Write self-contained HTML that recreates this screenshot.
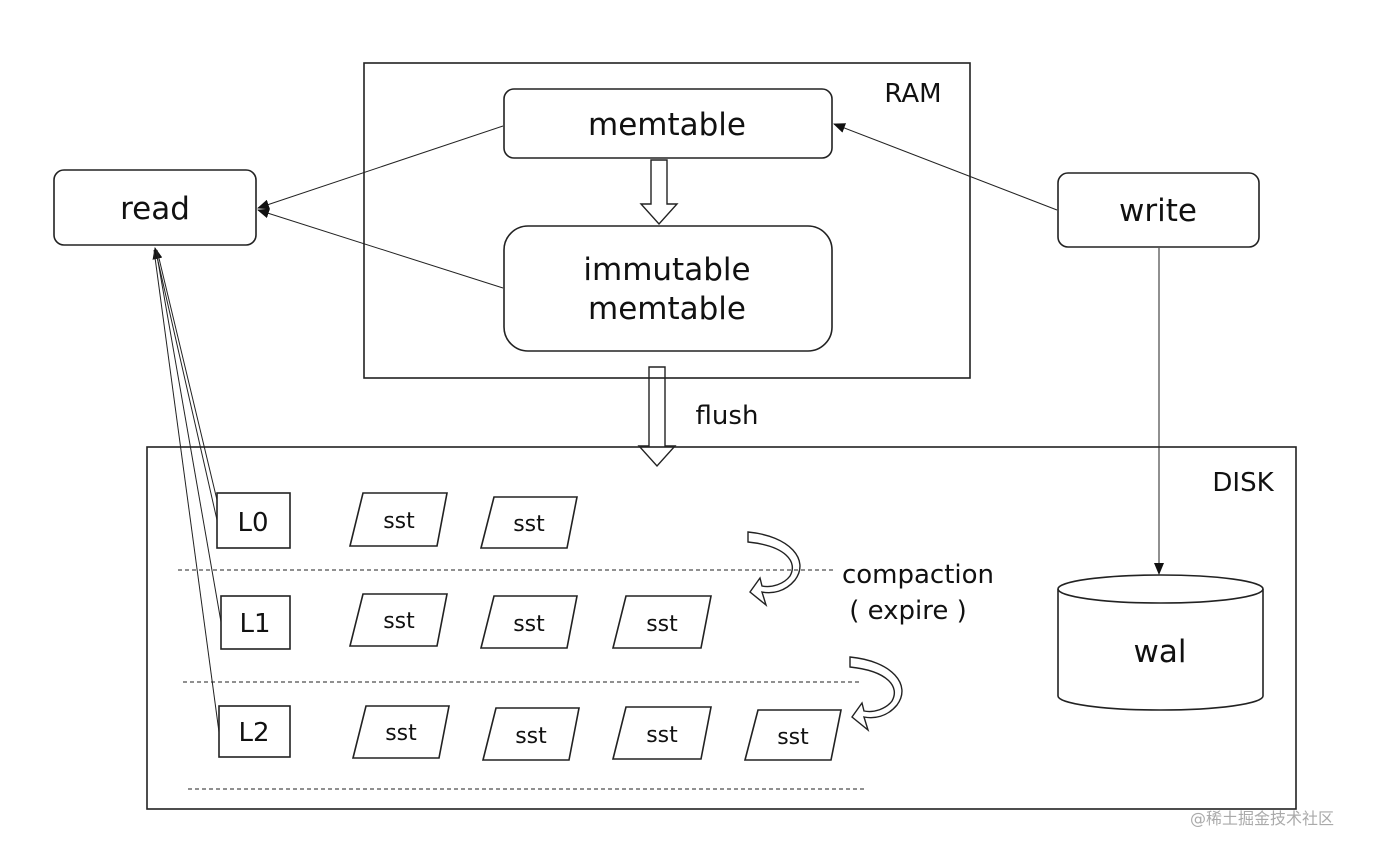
<!DOCTYPE html>
<html><head><meta charset="utf-8"><style>
html,body{margin:0;padding:0;background:#fff;}
svg text{font-family:"DejaVu Sans","Liberation Sans","Noto Sans CJK SC",sans-serif;fill:#111;}
</style></head><body>
<svg width="1374" height="852" viewBox="0 0 1374 852" xmlns="http://www.w3.org/2000/svg">
<defs>
<marker id="ah" markerWidth="12" markerHeight="10" refX="11" refY="5" orient="auto" markerUnits="userSpaceOnUse">
<path d="M0,0 L12,5 L0,10 Z" fill="#111"/></marker>
</defs>
<g fill="none" stroke="#222" stroke-width="1.6">
<rect x="364" y="63" width="606" height="315"/>
<rect x="147" y="447" width="1149" height="362"/>
<rect x="504" y="89" width="328" height="69" rx="10"/>
<rect x="504" y="226" width="328" height="125" rx="24"/>
<rect x="54" y="170" width="202" height="75" rx="10"/>
<rect x="1058" y="173" width="201" height="74" rx="10"/>
<rect x="217" y="493" width="73" height="55"/>
<rect x="221" y="596" width="69" height="53"/>
<rect x="219" y="706" width="71" height="51"/>
<path d="M363,493 H447 L437,546 H350 Z"/>
<path d="M494,497 H577 L567,548 H481 Z"/>
<path d="M363,594 H447 L437,646 H350 Z"/>
<path d="M494,596 H577 L567,648 H481 Z"/>
<path d="M626,596 H711 L701,648 H613 Z"/>
<path d="M366,706 H449 L439,758 H353 Z"/>
<path d="M496,708 H579 L569,760 H483 Z"/>
<path d="M626,707 H711 L701,759 H613 Z"/>
<path d="M758,710 H841 L831,760 H745 Z"/>
<path d="M1058,589 V696 A102.5,14 0 0 0 1263,696 V589"/>
<ellipse cx="1160.5" cy="589" rx="102.5" ry="14"/>
<path d="M651,160 H667 V204 H677 L659,224 L641,204 H651 Z" stroke-width="1.4"/>
<path d="M649,367 H665 V446 H675 L657,466 L639,446 H649 Z" stroke-width="1.4"/>
<path d="M748,532 C790,536 810,560 795,580 C785,592 772,594 762,592 L766,605 L750,592 L760,578 L762,586 C772,588 784,584 790,576 C798,562 786,546 748,542 Z" stroke-width="1.4"/>
<path d="M850,657 C892,661 912,685 897,705 C887,717 874,719 864,717 L868,730 L852,717 L862,703 L864,711 C874,713 886,709 892,701 C900,687 888,671 850,667 Z" stroke-width="1.4"/>
</g>
<g stroke="#222" stroke-width="1" stroke-dasharray="4,3" fill="none">
<line x1="178" y1="570" x2="836" y2="570"/>
<line x1="183" y1="682" x2="860" y2="682"/>
<line x1="188" y1="789" x2="865" y2="789"/>
</g>
<g stroke="#222" stroke-width="1" fill="none">
<line x1="503" y1="126" x2="258" y2="208" marker-end="url(#ah)"/>
<line x1="503" y1="288" x2="258" y2="210" marker-end="url(#ah)"/>
<line x1="1057" y1="210" x2="834" y2="124" marker-end="url(#ah)"/>
<line x1="1159" y1="248" x2="1159" y2="574" marker-end="url(#ah)"/>
<line x1="217" y1="520" x2="155" y2="248" marker-end="url(#ah)"/>
<line x1="221" y1="622" x2="156" y2="250"/>
<line x1="219" y1="732" x2="154" y2="250"/>
<line x1="217" y1="500" x2="157" y2="250"/>
</g>
<g font-size="31" text-anchor="middle">
<text x="667" y="135">memtable</text>
<text x="667" y="280">immutable</text>
<text x="667" y="319">memtable</text>
<text x="155" y="219">read</text>
<text x="1158" y="221">write</text>
<text x="1160" y="662">wal</text>
</g>
<g font-size="26" text-anchor="middle">
<text x="913" y="102">RAM</text>
<text x="1243" y="491">DISK</text>
<text x="727" y="424">flush</text>
<text x="918" y="583">compaction</text>
<text x="908" y="619">( expire )</text>
<text x="253" y="531">L0</text>
<text x="255" y="632">L1</text>
<text x="254" y="741">L2</text>
</g>
<g font-size="22" text-anchor="middle">
<text x="399" y="528">sst</text>
<text x="529" y="531">sst</text>
<text x="399" y="628">sst</text>
<text x="529" y="631">sst</text>
<text x="662" y="631">sst</text>
<text x="401" y="740">sst</text>
<text x="531" y="743">sst</text>
<text x="662" y="742">sst</text>
<text x="793" y="744">sst</text>
</g>
<text x="1190" y="824" font-size="16" style="fill:#aaa">@稀土掘金技术社区</text>
</svg>
</body></html>
